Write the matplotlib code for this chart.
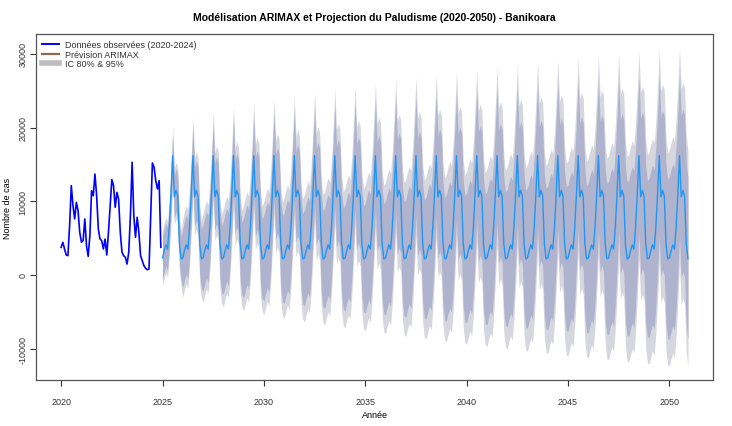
import numpy as np
import matplotlib
matplotlib.use("Agg")
import matplotlib.pyplot as plt
from matplotlib.lines import Line2D

plt.rcParams['font.family'] = ['Liberation Sans', 'DejaVu Sans']
plt.rcParams['axes.unicode_minus'] = False

# observed monthly cases, Jan 2020 .. Dec 2024
observed_cases = [
    3760, 4440, 3530, 2710, 2620, 6690, 12120, 9400, 7600, 9860, 8730, 5790,
    4440, 4670, 7600, 3980, 2530, 5340, 11440, 10760, 13700, 10760, 6240, 4880,
    4670, 3530, 4880, 2710, 5790, 9400, 12940, 12120, 9180, 11210, 10300, 5790,
    3080, 2620, 2400, 1490, 3080, 8050, 15300, 8050, 5110, 7830, 5790, 2620,
    1940, 1260, 900, 720, 810, 8050, 15200, 14610, 12800, 11670, 12800, 3760,
]
# forecast seasonal profile (Jan..Dec), the same every year 2025-2050
forecast_profile = [2300, 3300, 4100, 3500, 6500, 11000, 16200, 10600, 11500, 10700, 4200, 2200]
forecast_years = list(range(2025, 2051))
# half width of the 95% interval, read per year
ci95_half = [3800, 5300, 6000, 6600, 7170, 7690, 8180, 8650, 9090, 9500,
             9910, 10290, 10660, 11020, 11370, 11710, 12030, 12350, 12670,
             12970, 13270, 13560, 13840, 14120, 14390, 14660]
# half width of the 80% interval, read per year
ci80_half = [2900, 4000, 4500, 4950, 5400, 5800, 6150, 6500, 6850, 7150,
             7450, 7750, 8000, 8300, 8550, 8800, 9050, 9300, 9500,
             9750, 9950, 10200, 10400, 10600, 10800, 11000]

obs_t = 2020 + np.arange(len(observed_cases)) / 12
n_fc = 12 * len(forecast_years)
fc_t = forecast_years[0] + np.arange(n_fc) / 12
fc_mean = np.tile(forecast_profile, len(forecast_years))
h95 = np.repeat(ci95_half, 12)
h80 = np.repeat(ci80_half, 12)

fig = plt.figure(figsize=(7.32, 4.27), dpi=100)
ax = fig.add_axes([0.0492, 0.1077, 0.9248, 0.8103])

ax.fill_between(fc_t, fc_mean - h95, fc_mean + h95, color="#D6D6DE", lw=0)
ax.fill_between(fc_t, fc_mean - h80, fc_mean + h80, color="#AFB3CE", lw=0)
ax.plot(fc_t, fc_mean, color="#2196F3", lw=1.0)
ax.plot(obs_t, observed_cases, color="#0000FF", lw=1.2)

ax.set_xlim(2018.76, 2052.15)
ax.set_ylim(-14250, 32700)
ax.set_xticks(range(2020, 2051, 5))
ax.set_yticks(range(-10000, 30001, 10000))
ax.tick_params(axis='both', labelsize=6.5, colors="#333333", length=4, width=0.8)
ax.tick_params(axis='x', pad=8)
ax.tick_params(axis='y', pad=2)
for lab in ax.get_yticklabels():
    lab.set_rotation(90)
    lab.set_va('center')
for s in ax.spines.values():
    s.set_color("#555555")
    s.set_linewidth(0.9)

ax.set_title("Modélisation ARIMAX et Projection du Paludisme (2020-2050) - Banikoara",
             fontsize=7.5, fontweight='bold', pad=10)
ax.set_xlabel("Année", fontsize=6.5)
ax.set_ylabel("Nombre de cas", fontsize=6.5)
ax.xaxis.set_label_coords(0.5, -0.088)
ax.yaxis.set_label_coords(-0.036, 0.5)

handles = [
    Line2D([], [], color="#0000FF", lw=1.4),
    Line2D([], [], color="#8B6A4F", lw=1.6),
    Line2D([], [], color="#BDBDBD", lw=4),
]
labels = ["Données observées (2020-2024)", "Prévision ARIMAX", "IC 80% & 95%"]
ax.legend(handles, labels, loc="upper left", frameon=False, fontsize=6.5,
          labelspacing=0.05, handlelength=1.9, borderaxespad=0.3,
          handletextpad=0.6, labelcolor="#333333")

fig.savefig("out.png", dpi=100)
